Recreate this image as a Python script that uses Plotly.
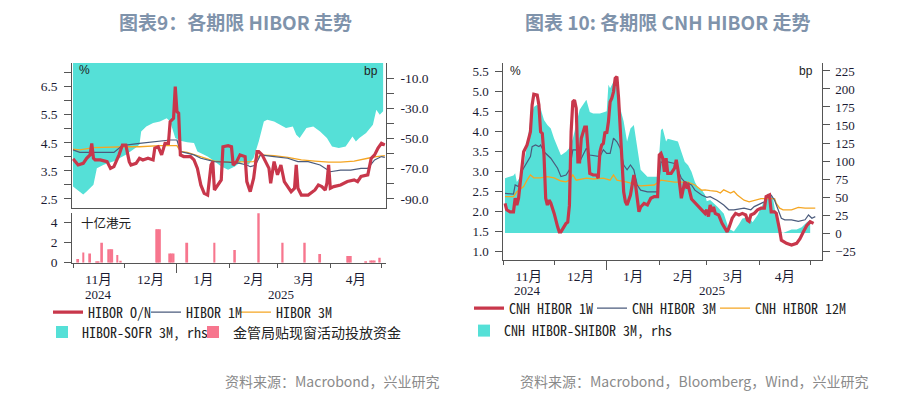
import plotly.graph_objects as go

# ---------------- Chart 9 : HIBOR ----------------
sofr_dates = ["2024-11-01","2024-11-05","2024-11-07","2024-11-09","2024-11-13","2024-11-15","2024-11-19","2024-11-25",
              "2024-12-02","2024-12-08","2024-12-10","2024-12-11","2024-12-14","2024-12-18","2024-12-22","2024-12-26",
              "2024-12-28","2024-12-31","2025-01-03","2025-01-07","2025-01-11","2025-01-13","2025-01-19","2025-01-23",
              "2025-01-27","2025-01-31","2025-02-04","2025-02-08","2025-02-12","2025-02-15","2025-02-18","2025-02-21",
              "2025-02-23","2025-02-27","2025-03-03","2025-03-06","2025-03-10","2025-03-12","2025-03-14","2025-03-18",
              "2025-03-22","2025-03-26","2025-03-30","2025-04-02","2025-04-06","2025-04-10","2025-04-14","2025-04-16",
              "2025-04-18","2025-04-22","2025-04-26","2025-04-28","2025-04-30","2025-05-02"]
sofr_bp = [-81.7,-85,-87,-85,-80.6,-69.6,-67.4,-65,
           -60.8,-56,-54,-45.3,-42,-39.8,-38.7,-36.5,
           -38.7,-49.7,-51.5,-52.4,-53,-58.6,-61.9,-65,
           -68.5,-70.7,-68.5,-65,-67.4,-62.9,-52,-38.7,
           -37.6,-38.7,-41,-43.1,-42,-47.5,-49.7,-43.1,
           -42,-45.3,-49.7,-55.2,-56.3,-55.2,-48.6,-51.9,
           -49.7,-46.4,-40.9,-31,-34.2,-32]

on_dates = ["2024-11-01","2024-11-04","2024-11-07","2024-11-09","2024-11-11","2024-11-12","2024-11-13","2024-11-14",
            "2024-11-17","2024-11-21","2024-11-23","2024-11-25","2024-11-28","2024-11-30","2024-12-02","2024-12-04",
            "2024-12-05","2024-12-08","2024-12-10","2024-12-12","2024-12-15","2024-12-18","2024-12-19","2024-12-21",
            "2024-12-23","2024-12-25","2024-12-27","2024-12-28","2024-12-30","2024-12-31","2025-01-01","2025-01-02",
            "2025-01-03","2025-01-05","2025-01-09","2025-01-11","2025-01-13","2025-01-15","2025-01-17","2025-01-19",
            "2025-01-21","2025-01-22","2025-01-23","2025-01-25","2025-01-27","2025-01-28","2025-01-31","2025-02-02",
            "2025-02-03","2025-02-05","2025-02-07","2025-02-10","2025-02-11","2025-02-13","2025-02-15","2025-02-17",
            "2025-02-18","2025-02-20","2025-02-22","2025-02-24","2025-02-25","2025-02-27","2025-03-01","2025-03-03",
            "2025-03-05","2025-03-07","2025-03-09","2025-03-11","2025-03-12","2025-03-13","2025-03-15","2025-03-19",
            "2025-03-23","2025-03-25","2025-03-27","2025-03-29","2025-03-30","2025-03-31","2025-04-01","2025-04-03",
            "2025-04-07","2025-04-11","2025-04-15","2025-04-17","2025-04-19","2025-04-23","2025-04-25","2025-04-27",
            "2025-04-29","2025-05-01","2025-05-03"]
on_vals = [3.93,3.71,3.77,3.95,4.07,4.48,3.95,3.89,
           3.89,3.83,3.59,3.65,4.07,4.42,4.42,3.83,
           3.71,3.77,3.95,3.89,3.95,3.89,4.31,4.36,
           4.07,4.48,4.48,5.25,5.37,6.50,5.61,5.55,
           4.07,4.01,4.01,3.89,3.59,3.00,2.70,2.64,
           3.71,3.83,2.82,3.00,3.18,4.36,4.40,4.36,
           3.71,3.83,4.07,4.01,3.12,2.76,3.24,4.19,
           4.19,4.07,3.83,3.59,3.06,3.83,3.36,3.71,
           3.12,2.94,2.76,2.88,3.71,2.88,2.64,2.64,
           2.82,3.00,2.94,2.82,3.06,3.71,2.88,2.94,
           3.00,3.12,3.18,3.12,3.30,3.36,3.95,4.07,
           4.31,4.48,4.42]

m1_dates = ["2024-11-01","2024-11-05","2024-11-13","2024-11-25","2024-11-29","2024-12-02","2024-12-10","2024-12-18",
            "2024-12-28","2025-01-01","2025-01-03","2025-01-07","2025-01-11","2025-01-15","2025-01-19","2025-01-23",
            "2025-01-31","2025-02-07","2025-02-11","2025-02-13","2025-02-16","2025-02-19","2025-02-27","2025-03-07",
            "2025-03-13","2025-03-19","2025-03-26","2025-04-01","2025-04-07","2025-04-13","2025-04-19","2025-04-23",
            "2025-04-27","2025-05-01","2025-05-03"]
m1_vals = [4.25,4.16,4.16,4.16,4.36,4.42,4.48,4.54,
           4.60,4.60,4.19,4.13,4.07,3.95,3.89,3.83,
           3.81,3.77,3.71,3.65,3.70,4.07,4.01,3.95,
           3.83,3.83,3.71,3.47,3.53,3.53,3.59,3.59,
           3.89,4.01,3.98]

m3_dates = ["2024-11-01","2024-11-05","2024-11-13","2024-11-25","2024-12-02","2024-12-10","2024-12-22","2025-01-01",
            "2025-01-03","2025-01-07","2025-01-15","2025-01-23","2025-01-31","2025-02-07","2025-02-15","2025-02-19",
            "2025-02-27","2025-03-07","2025-03-15","2025-03-23","2025-03-31","2025-04-07","2025-04-15","2025-04-23",
            "2025-04-28","2025-05-03"]
m3_vals = [4.27,4.25,4.33,4.36,4.36,4.36,4.40,4.40,
           4.19,4.16,4.01,3.85,3.81,3.81,3.83,4.07,
           4.04,3.98,3.89,3.85,3.81,3.81,3.85,3.95,
           4.01,4.04]

dw_dates = ["2024-11-04","2024-11-07","2024-11-11","2024-11-15","2024-11-16","2024-11-18","2024-11-22","2024-11-23",
            "2024-11-24","2024-11-27","2024-11-29","2024-12-20","2024-12-21","2024-12-22","2024-12-28","2024-12-29",
            "2024-12-30","2025-01-07","2025-01-23","2025-02-04","2025-02-18","2025-03-04","2025-03-17","2025-03-26",
            "2025-04-11","2025-04-12","2025-04-13","2025-04-22","2025-04-25","2025-04-26","2025-04-27","2025-04-30"]
dw_vals = [0.37,1.03,0.93,0.10,0.10,2.00,1.33,1.33,
           1.33,0.77,0.20,3.33,3.33,3.33,0.93,0.93,
           0.93,2.00,2.00,1.27,5.00,2.00,2.00,0.87,
           0.67,0.67,0.67,0.05,0.23,0.23,0.23,0.50]

# ---------------- Chart 10 : CNH HIBOR ----------------
w1_dates = ["2024-11-02","2024-11-03","2024-11-05","2024-11-07","2024-11-08","2024-11-09","2024-11-10","2024-11-11",
            "2024-11-13","2024-11-15","2024-11-17","2024-11-18","2024-11-19","2024-11-21","2024-11-22","2024-11-23",
            "2024-11-24","2024-11-25","2024-11-26","2024-11-27","2024-11-28","2024-11-29","2024-12-01","2024-12-03",
            "2024-12-04","2024-12-05","2024-12-06","2024-12-08","2024-12-09","2024-12-10","2024-12-11","2024-12-12",
            "2024-12-13","2024-12-14","2024-12-15","2024-12-16","2024-12-17","2024-12-19","2024-12-20","2024-12-21",
            "2024-12-22","2024-12-24","2024-12-26","2024-12-27","2024-12-28","2024-12-29","2024-12-30","2024-12-31",
            "2025-01-01","2025-01-02","2025-01-03","2025-01-04","2025-01-05","2025-01-06","2025-01-07","2025-01-08",
            "2025-01-09","2025-01-10","2025-01-11","2025-01-12","2025-01-13","2025-01-15","2025-01-17","2025-01-18",
            "2025-01-19","2025-01-20","2025-01-21","2025-01-23","2025-01-25","2025-01-27","2025-01-29","2025-01-31",
            "2025-02-01","2025-02-02","2025-02-03","2025-02-04","2025-02-05","2025-02-06","2025-02-08","2025-02-10",
            "2025-02-11","2025-02-12","2025-02-14","2025-02-16","2025-02-17","2025-02-18","2025-02-20","2025-02-22",
            "2025-02-24","2025-02-26","2025-02-28","2025-03-01","2025-03-02","2025-03-03","2025-03-04","2025-03-05",
            "2025-03-06","2025-03-08","2025-03-10","2025-03-12","2025-03-13","2025-03-14","2025-03-16","2025-03-18",
            "2025-03-20","2025-03-22","2025-03-24","2025-03-25","2025-03-26","2025-03-27","2025-03-29","2025-03-31",
            "2025-04-02","2025-04-04","2025-04-05","2025-04-07","2025-04-08","2025-04-10","2025-04-11","2025-04-13",
            "2025-04-14","2025-04-17","2025-04-20","2025-04-23","2025-04-25","2025-04-27","2025-04-29","2025-05-01",
            "2025-05-03"]
w1_vals = [2.19,2.03,1.98,1.98,2.32,2.15,2.32,2.73,
           3.48,3.65,3.98,4.65,4.92,4.90,4.65,3.98,
           3.94,3.40,2.32,2.15,2.27,2.20,1.94,1.61,
           1.48,1.48,1.56,1.69,1.72,2.14,3.98,4.73,
           4.77,4.57,3.23,3.23,3.82,4.10,4.10,3.40,
           2.94,2.90,2.90,2.82,3.48,3.65,3.69,3.98,
           3.94,4.23,4.73,4.82,4.98,5.32,5.36,4.82,
           4.07,3.40,2.48,2.23,2.15,2.40,2.90,2.65,
           2.23,1.98,2.10,2.19,2.15,2.32,2.36,2.36,
           3.40,3.44,3.32,2.98,3.32,2.94,2.94,3.07,
           3.28,3.03,2.32,2.73,2.61,2.65,2.30,2.20,
           2.10,2.03,1.94,2.03,1.86,2.15,1.98,2.10,
           1.94,1.90,1.69,1.57,1.48,1.57,1.82,1.94,
           1.90,1.94,1.90,1.77,1.74,1.90,1.94,2.03,
           2.07,2.07,2.36,2.40,1.98,1.98,1.94,1.52,
           1.27,1.19,1.15,1.19,1.31,1.48,1.64,1.73,
           1.69]

c3m_dates = ["2024-11-02","2024-11-07","2024-11-08","2024-11-10","2024-11-12","2024-11-15","2024-11-17","2024-11-18",
             "2024-11-20","2024-11-22","2024-11-23","2024-11-25","2024-11-29","2024-12-03","2024-12-05","2024-12-08",
             "2024-12-10","2024-12-12","2024-12-14","2024-12-16","2024-12-18","2024-12-20","2024-12-22","2024-12-28",
             "2024-12-30","2025-01-01","2025-01-03","2025-01-05","2025-01-07","2025-01-09","2025-01-11","2025-01-13",
             "2025-01-15","2025-01-17","2025-01-19","2025-01-21","2025-01-25","2025-01-31","2025-02-02","2025-02-04",
             "2025-02-06","2025-02-10","2025-02-12","2025-02-14","2025-02-16","2025-02-20","2025-02-22","2025-02-26",
             "2025-03-01","2025-03-03","2025-03-07","2025-03-11","2025-03-14","2025-03-17","2025-03-23","2025-03-27",
             "2025-03-29","2025-03-31","2025-04-04","2025-04-06","2025-04-08","2025-04-10","2025-04-12","2025-04-14",
             "2025-04-16","2025-04-20","2025-04-24","2025-04-28","2025-04-30","2025-05-02","2025-05-04"]
c3m_vals = [2.44,2.42,2.65,2.61,3.00,3.23,3.36,3.61,
            3.65,3.61,3.65,3.48,3.32,3.07,2.86,2.90,
            3.03,3.53,3.53,3.23,3.40,3.57,3.40,3.36,
            3.53,3.44,3.44,3.82,3.73,3.57,3.15,3.03,
            3.15,3.03,2.65,2.52,2.48,2.48,3.23,3.19,
            3.23,3.19,3.03,2.82,2.73,2.65,2.52,2.40,
            2.34,2.36,2.27,2.15,2.03,2.03,2.07,2.03,
            2.11,2.15,2.23,2.40,2.40,2.27,2.03,1.82,
            1.78,1.78,1.74,1.78,1.90,1.82,1.86]

c12m_dates = ["2024-11-02","2024-11-07","2024-11-09","2024-11-13","2024-11-15","2024-11-17","2024-11-19","2024-11-23",
              "2024-11-27","2024-12-01","2024-12-05","2024-12-08","2024-12-10","2024-12-12","2024-12-14","2024-12-20",
              "2024-12-24","2024-12-30","2025-01-03","2025-01-05","2025-01-07","2025-01-13","2025-01-21","2025-01-29",
              "2025-02-02","2025-02-10","2025-02-18","2025-02-22","2025-02-26","2025-02-28","2025-03-03","2025-03-07",
              "2025-03-09","2025-03-11","2025-03-15","2025-03-17","2025-03-19","2025-03-23","2025-03-26","2025-03-29",
              "2025-04-02","2025-04-06","2025-04-10","2025-04-11","2025-04-13","2025-04-15","2025-04-20","2025-04-24",
              "2025-04-28","2025-05-04"]
c12m_vals = [2.36,2.36,2.48,2.61,2.77,2.90,2.83,2.83,
             2.86,2.83,2.75,2.73,2.77,2.90,2.77,2.82,
             2.80,2.82,2.77,2.90,2.77,2.72,2.63,2.65,
             2.77,2.72,2.72,2.65,2.52,2.53,2.51,2.49,
             2.45,2.53,2.45,2.49,2.40,2.27,2.23,2.27,
             2.31,2.31,2.31,2.19,2.07,2.03,2.03,2.09,
             2.07,2.07]

shibor_dates = ["2024-11-02","2024-11-07","2024-11-08","2024-11-09","2024-11-11","2024-11-13","2024-11-15","2024-11-17",
                "2024-11-19","2024-11-21","2024-11-23","2024-11-25","2024-11-27","2024-11-29","2024-12-01","2024-12-03",
                "2024-12-05","2024-12-08","2024-12-10","2024-12-12","2024-12-14","2024-12-16","2024-12-18","2024-12-20",
                "2024-12-22","2024-12-24","2024-12-28","2025-01-01","2025-01-02","2025-01-03","2025-01-05","2025-01-07",
                "2025-01-09","2025-01-11","2025-01-13","2025-01-15","2025-01-17","2025-01-19","2025-01-21","2025-01-25",
                "2025-01-31","2025-02-02","2025-02-03","2025-02-04","2025-02-05","2025-02-06","2025-02-10","2025-02-12",
                "2025-02-14","2025-02-16","2025-02-18","2025-02-20","2025-02-22","2025-02-24","2025-02-26","2025-02-28",
                "2025-03-01","2025-03-03","2025-03-07","2025-03-11","2025-03-14","2025-03-17","2025-03-20","2025-03-22",
                "2025-03-26","2025-03-28","2025-03-31","2025-04-03","2025-04-06","2025-04-09","2025-04-11","2025-04-13",
                "2025-04-15","2025-04-20","2025-04-23","2025-04-26","2025-04-29","2025-05-01"]
shibor_bp = [76,80,83,71,78,94,122,159,
             175,178,173,157,150,145,131,118,
             108,113,118,131,150,171,178,185,
             168,166,166,169,206,201,210,201,
             173,155,127,145,150,118,88,78,
             78,143,145,136,127,131,129,127,
             113,99,94,85,71,62,60,53,
             44,46,37,27,6,2,12,20,
             22,15,25,40,55,50,20,2,
             0,5,5,8,15,18]

# ---------------- styling ----------------
CYAN = "#55E0D7"
RED = "#C8374B"
SLATE = "#4B5B7C"
ORANGE = "#F5A623"
PINK = "#F7768E"
AX = "#555555"
TXT = "#1b1b33"
NUM = "Liberation Serif, Noto Sans CJK SC"
MONO = "Noto Sans Mono CJK SC, Noto Sans CJK SC, Liberation Mono, monospace"
CJK = "Noto Sans CJK SC"

W, H = 905, 398
OFF = 8  # the page body adds an 8 px offset; positions below are given in window pixels
def px(x): return (x - OFF) / W
def py(y): return 1 - (y - OFF) / H

L_range = ["2024-10-31 14:00", "2025-05-03 12:00"]
R_range = ["2024-11-01", "2025-05-07 19:00"]
LX = [px(72.3), px(385.7)]
RX = [px(503.3), px(821.7)]

fig = go.Figure()

# left chart
fig.add_trace(go.Scatter(x=sofr_dates, y=sofr_bp, xaxis="x", yaxis="y", mode="lines",
                         line=dict(width=0, color=CYAN), fill="tozeroy", fillcolor=CYAN,
                         showlegend=False, hoverinfo="skip"))
fig.add_trace(go.Scatter(x=m3_dates, y=m3_vals, xaxis="x", yaxis="y2", mode="lines",
                         line=dict(width=1.3, color=ORANGE), name="HIBOR 3M", legend="legend3"))
fig.add_trace(go.Scatter(x=m1_dates, y=m1_vals, xaxis="x", yaxis="y2", mode="lines",
                         line=dict(width=1.2, color=SLATE), name="HIBOR 1M", legend="legend2"))
fig.add_trace(go.Scatter(x=on_dates, y=on_vals, xaxis="x", yaxis="y2", mode="lines",
                         line=dict(width=3.2, color=RED), name="HIBOR O/N", legend="legend"))
fig.add_trace(go.Bar(x=[None], y=[None], xaxis="x4", yaxis="y3", marker_color=CYAN,
                     name="HIBOR-SOFR 3M, rhs", legend="legend4"))
fig.add_trace(go.Bar(x=dw_dates, y=dw_vals, xaxis="x2", yaxis="y3", marker_color=PINK, marker_line_width=0,
                     width=86400000 * 1.1, name="金管局贴现窗活动投放资金", legend="legend5"))

# right chart
fig.add_trace(go.Scatter(x=shibor_dates, y=shibor_bp, xaxis="x3", yaxis="y4", mode="lines",
                         line=dict(width=0, color=CYAN), fill="tozeroy", fillcolor=CYAN,
                         showlegend=False, hoverinfo="skip"))
fig.add_trace(go.Scatter(x=c12m_dates, y=c12m_vals, xaxis="x3", yaxis="y5", mode="lines",
                         line=dict(width=1.3, color=ORANGE), name="CNH HIBOR 12M", legend="legend8"))
fig.add_trace(go.Scatter(x=c3m_dates, y=c3m_vals, xaxis="x3", yaxis="y5", mode="lines",
                         line=dict(width=1.2, color=SLATE), name="CNH HIBOR 3M", legend="legend7"))
fig.add_trace(go.Scatter(x=w1_dates, y=w1_vals, xaxis="x3", yaxis="y5", mode="lines",
                         line=dict(width=3.2, color=RED), name="CNH HIBOR 1W", legend="legend6"))
fig.add_trace(go.Bar(x=[None], y=[None], xaxis="x5", yaxis="y4", marker_color=CYAN,
                     name="CNH HIBOR-SHIBOR 3M, rhs", legend="legend9"))

tickf = dict(family=NUM, size=13.5, color=TXT)
month_axis = dict(type="date", tickmode="linear", tick0="2024-11-01", dtick="M1", ticklabelmode="period",
                  tickformat="%-m月", ticks="outside", ticklen=4, tickcolor=AX, showline=True, linecolor=AX,
                  linewidth=1, tickfont=dict(family=NUM, size=13.5, color=TXT), showgrid=False, zeroline=False,
                  automargin=False)
long_tick = dict(type="date", tickmode="array", tickvals=["2025-01-01"], ticks="outside", ticklen=9,
                 tickcolor=AX, showticklabels=False, showline=False, showgrid=False, zeroline=False,
                 automargin=False)

left_bp_vals = list(range(-90, 0, 10))
left_pct_vals = [2.5 + 0.5 * i for i in range(10)]

fig.update_layout(
    template="none",
    width=W, height=H, margin=dict(l=0, r=0, t=0, b=0, autoexpand=False),
    paper_bgcolor="white", plot_bgcolor="rgba(0,0,0,0)", barmode="overlay",
    xaxis=dict(domain=LX, anchor="y", type="date", range=L_range, showline=True, linecolor=AX,
               ticks="", showticklabels=False, showgrid=False, zeroline=False, automargin=False),
    xaxis2=dict(domain=LX, anchor="y3", range=L_range, **month_axis),
    xaxis4=dict(overlaying="x2", anchor="y3", range=L_range, **long_tick),
    xaxis3=dict(domain=RX, anchor="y4", range=R_range, **month_axis),
    xaxis5=dict(overlaying="x3", anchor="y4", range=R_range, **long_tick),
    yaxis=dict(domain=[py(207.7), py(63)], anchor="x", side="right", range=[-95.8, 0],
               tickmode="array", tickvals=left_bp_vals,
               ticktext=[("%.1f" % v) if v % 20 != 0 else "" for v in left_bp_vals],
               ticks="outside", ticklen=7, tickcolor=AX, showline=True, linecolor=AX, ticklabelstandoff=4,
               tickfont=tickf, showgrid=False, zeroline=False, automargin=False),
    yaxis2=dict(overlaying="y", anchor="x", side="left", range=[2.19, 7.34],
                tickmode="array", tickvals=left_pct_vals,
                ticktext=[("%.1f" % v) if abs((v * 2) % 2 - 1) < 1e-6 else "" for v in left_pct_vals],
                ticks="outside", ticklen=7, tickcolor=AX, showline=True, linecolor=AX, ticklabelstandoff=4,
                tickfont=tickf, showgrid=False, zeroline=False, automargin=False),
    yaxis3=dict(domain=[py(262.7), py(213.3)], anchor="x2", range=[0, 4.93],
                tickmode="array", tickvals=[0, 2, 4], ticks="outside", ticklen=7, tickcolor=AX,
                ticklabelstandoff=4,
                showline=True, linecolor=AX, tickfont=tickf, showgrid=False, zeroline=False, automargin=False),
    yaxis4=dict(domain=[py(260), py(63)], anchor="x3", side="right", range=[-37.5, 236.1],
                tickmode="linear", tick0=-25, dtick=25, ticks="outside", ticklen=7, tickcolor=AX,
                ticklabelstandoff=3,
                showline=True, linecolor=AX, tickfont=dict(family=NUM, size=13, color=TXT),
                showgrid=False, zeroline=False, automargin=False),
    yaxis5=dict(overlaying="y4", anchor="x3", side="left", range=[0.775, 5.7],
                tickmode="linear", tick0=1.0, dtick=0.5, tickformat=".1f", ticks="outside", ticklen=7,
                ticklabelstandoff=4,
                tickcolor=AX, showline=True, linecolor=AX, tickfont=dict(family=NUM, size=13, color=TXT),
                showgrid=False, zeroline=False, automargin=False),
)

leg_common = dict(orientation="h", xanchor="left", yanchor="middle", bgcolor="rgba(0,0,0,0)",
                  font=dict(family=MONO, size=14, color="#222"), itemwidth=30, borderwidth=0)
# legend x = item origin (line symbol spans +5..+35, square +14..+26, text starts at +40)
leg_pos = {"legend": (48, 312.5), "legend2": (146, 312.5), "legend3": (236, 312.5),
           "legend4": (42, 332.5), "legend5": (193, 332.5),
           "legend6": (469, 308.5), "legend7": (592, 308.5), "legend8": (715, 308.5),
           "legend9": (464, 331)}
fig.update_layout(**{k: dict(x=px(x), y=py(y), **leg_common) for k, (x, y) in leg_pos.items()})

ann = []
def add_text(text, x, y, size, color, family, xanchor="center", xref="paper", weight="normal"):
    ann.append(dict(text=text, x=x, y=py(y), xref=xref, yref="paper", xanchor=xanchor, yanchor="middle",
                    showarrow=False, font=dict(family=family, size=size, color=color, weight=weight)))

add_text("图表9：各期限 HIBOR 走势", px(236), 21.5, 19, "#7F93AB", CJK, weight="bold")
add_text("图表 10: 各期限 CNH HIBOR 走势", px(667), 21.5, 19, "#7F93AB", CJK, weight="bold")
add_text("%", px(77), 70, 12, "#222", "Liberation Sans", xanchor="left")
add_text("bp", px(379.5), 71, 12, "#222", "Liberation Sans", xanchor="right")
add_text("%", px(508), 71, 12, "#222", "Liberation Sans", xanchor="left")
add_text("bp", px(815), 71, 12, "#222", "Liberation Sans", xanchor="right")
add_text("十亿港元", px(79), 222, 12.5, "#222", CJK, xanchor="left")
add_text("2024", "2024-11-16", 294, 13, TXT, NUM, xref="x2")
add_text("2025", "2025-03-03", 294, 13, TXT, NUM, xref="x2")
add_text("2024", "2024-11-15", 290.5, 13, TXT, NUM, xref="x3")
add_text("2025", "2025-03-04", 290.5, 13, TXT, NUM, xref="x3")
add_text("资料来源：Macrobond，兴业研究", px(332.5), 381, 14, "#8a8a8a", CJK)
add_text("资料来源：Macrobond，Bloomberg，Wind，兴业研究", px(694.5), 381, 14, "#8a8a8a", CJK)
fig.update_layout(annotations=ann)

fig.write_html("out.html")
